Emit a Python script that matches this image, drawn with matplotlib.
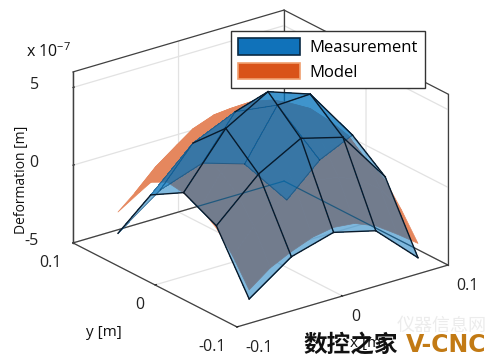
import numpy as np
import matplotlib
matplotlib.use("Agg")
import matplotlib.pyplot as plt
from matplotlib.patches import Patch
from mpl_toolkits.mplot3d import proj3d

plt.rcParams['font.family'] = ['Open Sans', 'DejaVu Sans']

# measurement mesh (x 1e-7 m)
meas_x = [-0.076, -0.036, 0.004, 0.044, 0.084]
meas_y = [-0.084, -0.044, -0.004, 0.036, 0.076]
meas_z = [
    [-4.11, -2.19, -1.42, -2.11, -4.64],
    [-0.48, 2.05, 3.55, 2.82, -0.52],
    [0.57, 3.91, 5.47, 4.52, 1.09],
    [-0.66, 1.88, 3.10, 2.73, -1.60],
    [-4.21, -2.22, -1.28, -2.14, -5.25],
]
# model surface (x 1e-7 m)
model_x = [-0.076, -0.056, -0.036, -0.016, 0.004, 0.024, 0.044, 0.064, 0.084]
model_y = [-0.084, -0.064, -0.044, -0.024, -0.004, 0.016, 0.036, 0.056, 0.076]
model_z = [
    [-3.53, -2.51, -1.86, -1.34, -1.10, -1.24, -1.80, -2.72, -3.72],
    [-1.89, -0.36, 0.62, 1.20, 1.39, 1.20, 0.62, -0.36, -2.12],
    [-0.63, 1.13, 2.27, 2.95, 3.18, 2.95, 2.27, 1.13, -0.73],
    [0.12, 2.02, 3.26, 4.00, 4.24, 4.00, 3.26, 2.02, -0.17],
    [0.55, 2.40, 3.70, 4.40, 4.60, 4.35, 3.59, 2.32, 0.30],
    [0.70, 2.40, 3.60, 4.25, 4.30, 4.00, 3.26, 2.02, 0.10],
    [0.15, 1.70, 2.80, 3.30, 3.30, 2.95, 2.27, 1.13, -0.46],
    [-1.10, 0.20, 1.20, 1.60, 1.60, 1.20, 0.62, -0.36, -1.73],
    [-2.84, -2.00, -1.20, -1.00, -1.00, -1.25, -1.70, -2.45, -3.50],
]
x_ticks = [-0.1, 0, 0.1]
y_ticks = [-0.1, 0, 0.1]
z_ticks = [-5, 0, 5]
x_tick_labels = ['-0.1', '0', '0.1']
y_tick_labels = ['-0.1', '0', '0.1']
z_tick_labels = ['-5', '0', '5']

BLUE = '#0072BD'
ORANGE = '#D95319'
MODEL_FILL = '#E5875E'
AXC = '#404040'
W, H = 502, 363

fig = plt.figure(figsize=(W / 100, H / 100), dpi=100)
ax = fig.add_axes([0.05, 0.05, 0.9, 0.9], projection='3d', proj_type='ortho', computed_zorder=False)
ax.patch.set_alpha(0)
ax.view_init(elev=22.8, azim=-127.1)
ax.set_box_aspect((264.6, 271.8, 185.5))
ax.set_xlim(-0.1, 0.1, view_margin=0)
ax.set_ylim(-0.1, 0.1, view_margin=0)
ax.set_zlim(-5, 6, view_margin=0)

ax.set_xticks(x_ticks); ax.set_xticklabels(x_tick_labels, ha='left')
ax.set_yticks(y_ticks); ax.set_yticklabels(y_tick_labels, ha='right')
ax.set_zticks(z_ticks); ax.set_zticklabels(z_tick_labels, ha='right', va='center')
for a in (ax.xaxis, ax.yaxis, ax.zaxis):
    a.set_pane_color((1, 1, 1, 0))
    a.pane.set_edgecolor((1, 1, 1, 0))
    a.line.set_color(AXC)
    a.line.set_linewidth(0.9)
    a._axinfo['grid'].update(color='#e2e2e2', linewidth=0.9)
    a._axinfo['tick'].update(inward_factor=0.0, outward_factor=0.08)
ax.tick_params(axis='both', labelsize=11.5, colors='#222222', pad=0)
ax.tick_params(axis='z', labelsize=11.5, pad=6)
ax.zaxis.set_ticks_position('upper')

# outer box
xa, xb, ya, yb, za, zb = -0.1, 0.1, -0.1, 0.1, -5, 6
box = [((xa, yb, za), (xb, yb, za)), ((xb, yb, za), (xb, ya, za)),
       ((xa, yb, za), (xa, yb, zb)), ((xb, yb, za), (xb, yb, zb)), ((xb, ya, za), (xb, ya, zb)),
       ((xa, yb, zb), (xb, yb, zb)), ((xb, yb, zb), (xb, ya, zb))]
for n, (p, q) in enumerate(box):
    ax.plot(*zip(p, q), color=AXC, lw=0.9, zorder=2.5 if n < 2 else 1)

MX, MY = np.meshgrid(model_x, model_y)
ax.plot_surface(MX, MY, np.array(model_z), color=MODEL_FILL, linewidth=0.5, edgecolor=MODEL_FILL,
                antialiased=True, shade=False, rstride=1, cstride=1, zorder=2)
EX, EY = np.meshgrid(meas_x, meas_y)
EZ = np.array(meas_z)
ax.plot_surface(EX, EY, EZ, color=BLUE, alpha=0.5, linewidth=0,
                antialiased=False, shade=False, rstride=1, cstride=1, zorder=3)

LINE = '#0a1a2a'
def seg(i0, j0, i1, j1, **kw):
    ax.plot([EX[j0, i0], EX[j1, i1]], [EY[j0, i0], EY[j1, i1]], [EZ[j0, i0], EZ[j1, i1]], **kw)
strong = dict(color=LINE, lw=1.0, zorder=5)
faint = dict(color='#123a5c', lw=0.7, alpha=0.45, zorder=4)
for j in range(5):
    for i in range(4):
        seg(i, j, i + 1, j, **(strong if j <= 2 else faint))
for i in range(5):
    for j in range(4):
        s = (i == 0) or (j < 2) or (j == 2 and i in (1, 2, 3))
        seg(i, j, i, j + 1, **(strong if s else faint))

# place axes so that the box corners land on the reference pixels
def px(p):
    a, b, _ = proj3d.proj_transform(*p, ax.get_proj())
    return ax.transData.transform((a, b))
tB = np.array([448.0, H - 265.0]); tC = np.array([73.0, H - 243.0])
for _ in range(3):
    fig.canvas.draw()
    B, C = px((xb, ya, za)), px((xa, yb, za))
    s = (np.linalg.norm(tB - tC)) / np.linalg.norm(B - C)
    pos = ax.get_position()
    side = pos.width * W * s
    mid_now = (B + C) / 2
    mid_t = (tB + tC) / 2
    cx = (pos.x0 + pos.width / 2) * W
    cy = (pos.y0 + pos.height / 2) * H
    cx2 = mid_t[0] + (cx - mid_now[0]) * s
    cy2 = mid_t[1] + (cy - mid_now[1]) * s
    ax.set_position([(cx2 - side / 2) / W, (cy2 - side / 2) / H, side / W, side / H])

fig.text(22 / W, 1 - 180 / H, 'Deformation [m]', rotation=90, ha='center', va='center', fontsize=10, color='#111111')
fig.text(104 / W, 1 - 333 / H, 'y [m]', ha='center', va='center', fontsize=11, color='#111111')
fig.text(368 / W, 1 - 343 / H, 'x [m]', ha='center', va='center', fontsize=11, color='#111111')
fig.text(26 / W, 1 - 52 / H, r'x 10$^{\mathregular{-7}}$', ha='left', va='center', fontsize=11.5, color='#111111')

leg = fig.legend(handles=[Patch(facecolor='#1072BA', edgecolor='#0a2a44', lw=1.2, label='Measurement'),
                          Patch(facecolor=ORANGE, edgecolor='#F0A070', lw=1.2, label='Model')],
                 loc='upper left', bbox_to_anchor=(231 / W, 1 - 31 / H), borderaxespad=0,
                 fontsize=12, handlelength=3.7, handleheight=1.15, labelspacing=0.42,
                 borderpad=0.42, handletextpad=0.6, frameon=True, fancybox=False, framealpha=1,
                 edgecolor='#333333')
leg.get_frame().set_linewidth(1.0)

fig.text(442 / W, 1 - 326 / H, '仪器信息网', ha='center', va='center', fontsize=13, color='#ececec',
         family=['Noto Sans CJK SC', 'DejaVu Sans'])
fig.text(303 / W, 1 - 345 / H, '数控之家', ha='left', va='center', fontsize=17, color='#111111', fontweight='black',
         family=['Noto Sans CJK SC', 'DejaVu Sans'])
fig.text(406 / W, 1 - 345 / H, 'V-CNC', ha='left', va='center', fontsize=17, color='#C27A14', fontweight='bold',
         family=['DejaVu Sans'])
fig.savefig('out.png', dpi=100)
